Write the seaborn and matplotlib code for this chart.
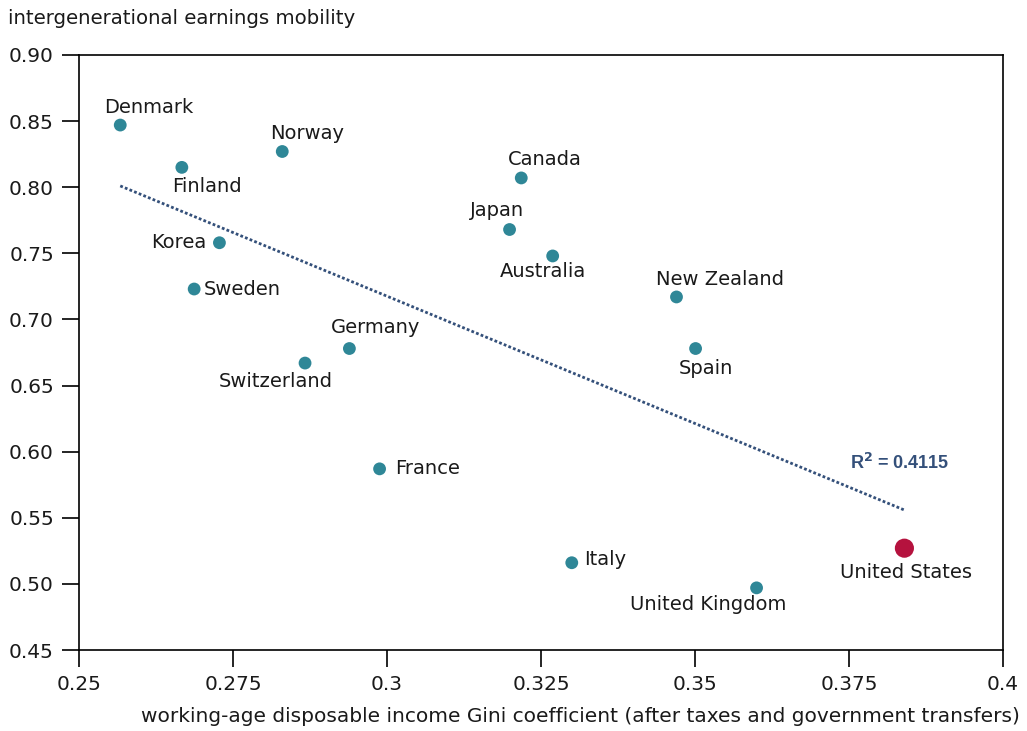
import numpy as np
import pandas as pd
import matplotlib
matplotlib.use("Agg")
import matplotlib.pyplot as plt
import seaborn as sns

# --- data ---
countries = ['Denmark', 'Finland', 'Norway', 'Korea', 'Sweden', 'Switzerland',
             'Germany', 'France', 'Canada', 'Japan', 'Australia', 'New Zealand',
             'Spain', 'Italy', 'United Kingdom', 'United States']
gini = [0.2567, 0.2667, 0.2830, 0.2728, 0.2687, 0.2867,
        0.2939, 0.2988, 0.3218, 0.3199, 0.3269, 0.3470,
        0.3501, 0.3300, 0.3600, 0.3840]
mobility = [0.847, 0.815, 0.827, 0.758, 0.723, 0.667,
            0.678, 0.587, 0.807, 0.768, 0.748, 0.717,
            0.678, 0.516, 0.497, 0.527]
r2_text = 'R$^\\mathbf{2}$ = 0.4115'

xticks = [0.25, 0.275, 0.3, 0.325, 0.35, 0.375, 0.4]
xtick_labels = ['0.25', '0.275', '0.3', '0.325', '0.35', '0.375', '0.4']
yticks = [0.45, 0.50, 0.55, 0.60, 0.65, 0.70, 0.75, 0.80, 0.85, 0.90]

# label offsets in pixels (dx, dy, ha)
label_pos = {
    'Denmark': (29, 18, 'center'), 'Finland': (25, -19, 'center'),
    'Norway': (25, 18, 'center'), 'Korea': (-13, 0, 'right'),
    'Sweden': (10, 0, 'left'), 'Switzerland': (-29, -18, 'center'),
    'Germany': (26, 21, 'center'), 'France': (16, 0, 'left'),
    'Canada': (24, 18, 'center'), 'Japan': (-13, 19, 'center'),
    'Australia': (-10, -16, 'center'), 'New Zealand': (44, 17, 'center'),
    'Spain': (10, -20, 'center'), 'Italy': (12, 3, 'left'),
    'United Kingdom': (-48, -17, 'center'), 'United States': (2, -24, 'center'),
}

df = pd.DataFrame({'country': countries, 'gini': gini, 'mobility': mobility})
df['group'] = np.where(df['country'] == 'United States', 'US', 'other')

sns.set_theme(style='white')
plt.rcParams['font.family'] = ['DejaVu Sans']

fig = plt.figure(figsize=(10.27, 7.31), dpi=100)
ax = fig.add_axes([0.0769, 0.1108, 0.8997, 0.814])

sns.regplot(data=df, x='gini', y='mobility', scatter=False, ci=None, ax=ax,
            line_kws={'color': '#34507a', 'lw': 2, 'ls': (0, (1, 0.8))})

others = df[df['group'] == 'other']
us = df[df['group'] == 'US']
sns.scatterplot(data=others, x='gini', y='mobility', ax=ax, color='#2f8797',
                s=85, edgecolor='none', zorder=3)
sns.scatterplot(data=us, x='gini', y='mobility', ax=ax, color='#b5123e',
                s=190, edgecolor='none', zorder=3)

for _, row in df.iterrows():
    dx, dy, ha = label_pos[row['country']]
    ax.annotate(row['country'], (row['gini'], row['mobility']),
                xytext=(dx, dy), textcoords='offset pixels',
                ha=ha, va='center', fontsize=14, color='#1a1a1a')

ax.text(0.3833, 0.5914, r2_text, ha='center', va='center', fontsize=13,
        fontweight='bold', color='#34507a', family=['Liberation Sans', 'DejaVu Sans'])

ax.set_xlim(0.25, 0.4)
ax.set_ylim(0.45, 0.90)
ax.set_xticks(xticks)
ax.set_xticklabels(xtick_labels)
ax.set_yticks(yticks)
ax.set_yticklabels([f'{v:.2f}' for v in yticks])
ax.tick_params(axis='both', direction='out', length=12, width=1.2,
               color='black', labelsize=14.5, labelcolor='#1a1a1a', pad=6,
               left=True, bottom=True)
for sp in ax.spines.values():
    sp.set_visible(True)
    sp.set_color('black')
    sp.set_linewidth(1.2)

ax.set_xlabel('working-age disposable income Gini coefficient (after taxes and government transfers)',
              fontsize=14.5, color='#1a1a1a', ha='right', x=1.018, labelpad=9)
ax.set_ylabel('')
fig.text(0.008, 0.975, 'intergenerational earnings mobility', fontsize=14.2,
         color='#1a1a1a', ha='left', va='center')

fig.savefig('out.png', dpi=100)
